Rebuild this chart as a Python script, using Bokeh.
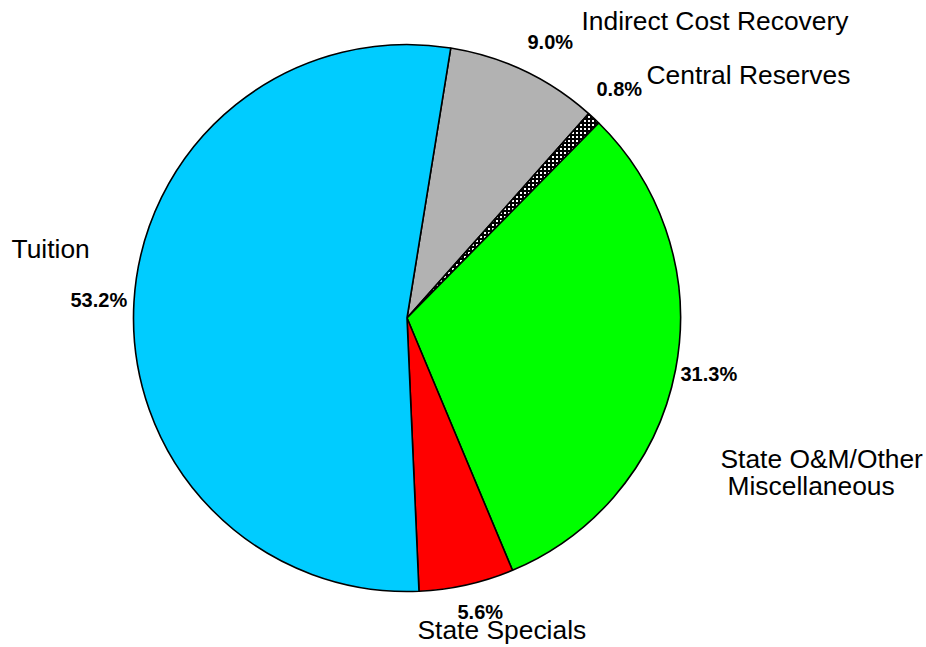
import numpy as np
from bokeh.plotting import figure
from bokeh.models import ColumnDataSource, Range1d
from bokeh.core.properties import value
from bokeh.embed import file_html
from bokeh.resources import INLINE

# ---- data ----
categories = ["Indirect Cost Recovery", "Central Reserves",
              "State O&M/Other\nMiscellaneous", "State Specials", "Tuition"]
shares = [9.0, 0.8, 31.3, 5.6, 53.2]
colors = ["#B2B2B2", "#FFFFFF", "#00FF00", "#FF0000", "#00CCFF"]
hatches = [" ", "cross", " ", " ", " "]

# ---- layout (page pixel coordinates) ----
W, H = 926, 647
TEXT_DY = 9  # baseline correction
def px(x):
    return x
def py(y):
    return H - y

cx, cy, R = 406.5, 317.5, 273.5
start_cw_deg = 9.2  # clockwise from 12 o'clock

vals = np.array(shares)
cum = np.concatenate([[0.0], np.cumsum(vals)]) / vals.sum() * 360.0
cw0 = start_cw_deg + cum[:-1]
cw1 = start_cw_deg + cum[1:]
start_angle = np.radians(90.0 - cw0)
end_angle = np.radians(90.0 - cw1)

src = ColumnDataSource(dict(
    x=[px(cx)] * len(shares), y=[py(cy)] * len(shares),
    start=start_angle, end=end_angle, color=colors, hatch=hatches,
))

p = figure(width=W, height=H, output_backend="svg", toolbar_location=None,
           x_range=Range1d(0, W), y_range=Range1d(0, H),
           min_border=0, outline_line_color=None)
p.axis.visible = False
p.grid.visible = False
p.background_fill_color = "white"

p.wedge(x="x", y="y", radius=R, radius_units="screen",
        start_angle="start", end_angle="end", direction="clock",
        fill_color="color", line_color="black", line_width=1.6,
        hatch_pattern="hatch", hatch_color="black", hatch_scale=4,
        hatch_weight=2, source=src)

# category name labels (left x, baseline y) per line
name_pos = {
    "Indirect Cost Recovery": [(581, 29)],
    "Central Reserves": [(646, 83)],
    "State O&M/Other\nMiscellaneous": [(720, 467), (727, 494)],
    "State Specials": [(417, 638)],
    "Tuition": [(11, 257)],
}
nx, ny, nt = [], [], []
for c in categories:
    for line, (lx, ly) in zip(c.split("\n"), name_pos[c]):
        nx.append(px(lx)); ny.append(py(ly - TEXT_DY)); nt.append(line)
p.text(x=nx, y=ny, text=nt, text_font=value("Liberation Sans"),
       text_font_size="26.4px", text_color="black",
       text_align="left", text_baseline="alphabetic")

# percentage labels
pct_pos = [(527, 50), (596, 97), (680, 382), (457, 620), (70, 308)]
pt = [f"{v:.1f}%" for v in shares]
p.text(x=[px(a) for a, b in pct_pos],
       y=[py(b - TEXT_DY) for a, b in pct_pos], text=pt,
       text_font=value("Liberation Sans"), text_font_style="bold",
       text_font_size="20px", text_color="black",
       text_align="left", text_baseline="alphabetic")

open("out.html", "w").write(file_html(p, INLINE))
